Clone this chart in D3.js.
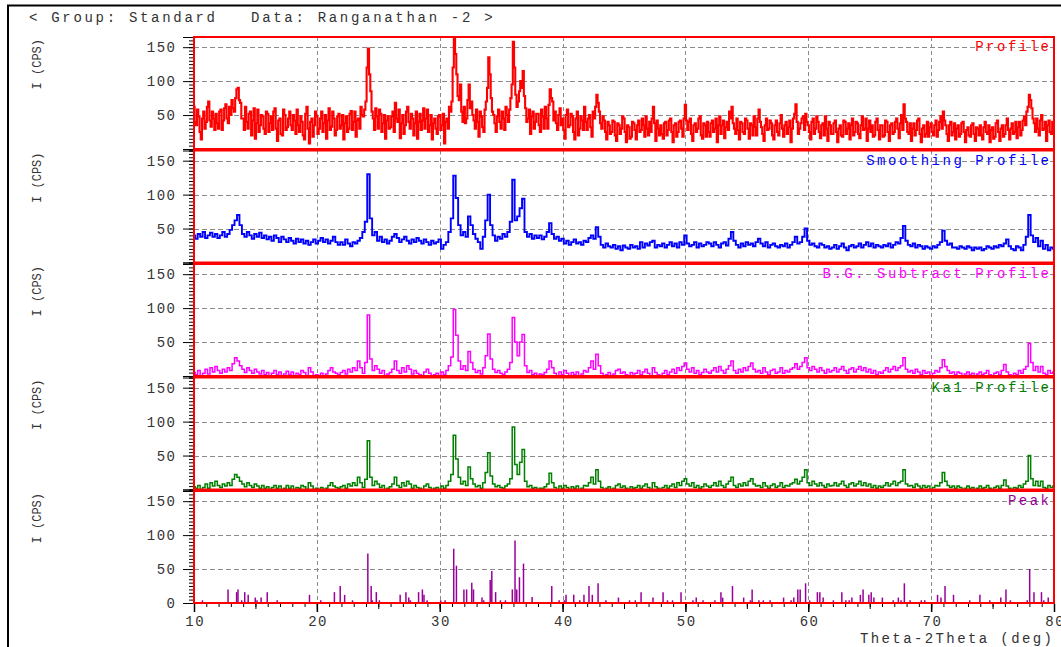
<!DOCTYPE html>
<html>
<head>
<meta charset="utf-8">
<script src="https://cdn.jsdelivr.net/npm/d3@7"></script>
<style>
  html, body { margin: 0; padding: 0; background: #fff; }
  svg { display: block; }
  text { font-family: 'Liberation Mono', 'DejaVu Sans Mono', monospace; }
</style>
</head>
<body>
<div id="chart"></div>
<script>
'use strict'

const title = '< Group: Standard   Data: Ranganathan -2 >'
const xLabel = 'Theta-2Theta (deg)'
const yLabel = 'I (CPS)'
const xStart = 10
const profileStep = 0.1
const xStep = 0.2
const xTicks = [10, 20, 30, 40, 50, 60, 70, 80]
const yTicks = [0, 50, 100, 150]
const panelNames = ['Profile', 'Smoothing Profile', 'B.G. Subtract Profile', 'Ka1 Profile', 'Peak']
const panelColors = ['#ff0000', '#0000ff', '#ff00ff', '#008000', '#990099']

// raw intensities every 0.1 deg from 10 to 80, one row = 2 deg
const profile = [
  62, 40, 35, 58, 48, 25, 14, 45, 55, 30, 40, 62, 70, 42, 33, 55, 45, 28, 52, 38,
  30, 55, 58, 28, 42, 60, 66, 45, 38, 62, 50, 72, 60, 55, 75, 88, 90, 72, 68, 45,
  45, 28, 62, 40, 30, 52, 55, 20, 42, 60, 15, 38, 58, 25, 35, 50, 48, 30, 22, 55,
  52, 25, 38, 48, 28, 55, 60, 30, 12, 42, 45, 22, 20, 58, 50, 28, 32, 45, 55, 35,
  28, 50, 42, 22, 58, 35, 25, 48, 40, 20, 14, 52, 62, 30, 8, 40, 45, 18, 35, 55,
  48, 22, 30, 45, 55, 25, 38, 50, 15, 42, 60, 28, 33, 55, 45, 20, 28, 48, 52, 30,
  35, 50, 14, 38, 48, 25, 30, 52, 56, 28, 40, 55, 18, 42, 45, 30, 62, 50, 48, 58,
  70, 120, 148, 110, 85, 55, 45, 28, 60, 48, 30, 58, 52, 25, 38, 50, 15, 42, 48, 30,
  32, 48, 55, 25, 68, 45, 40, 58, 16, 38, 50, 22, 35, 55, 62, 40, 30, 52, 45, 20,
  38, 55, 15, 40, 52, 28, 42, 60, 30, 45, 58, 25, 35, 50, 14, 38, 45, 30, 22, 48,
  50, 28, 35, 52, 8, 40, 45, 30, 62, 55, 70, 120, 165, 140, 110, 78, 72, 95, 55, 40,
  62, 38, 45, 72, 95, 60, 70, 50, 42, 30, 58, 40, 18, 55, 48, 32, 25, 58, 70, 90,
  135, 110, 75, 55, 50, 38, 25, 48, 58, 40, 30, 55, 45, 28, 62, 50, 40, 58, 75, 95,
  158, 120, 80, 62, 70, 85, 100, 90, 115, 78, 60, 40, 45, 58, 22, 48, 55, 30, 40, 52,
  52, 35, 25, 58, 48, 30, 62, 45, 30, 65, 88, 75, 70, 42, 55, 38, 28, 50, 60, 35,
  45, 28, 15, 50, 58, 32, 35, 52, 48, 25, 14, 45, 55, 20, 30, 48, 42, 28, 62, 40,
  28, 45, 50, 32, 18, 55, 45, 62, 80, 68, 55, 38, 30, 48, 42, 25, 14, 40, 35, 22,
  25, 42, 40, 20, 12, 38, 35, 22, 30, 48, 45, 25, 10, 35, 32, 15, 18, 40, 38, 28,
  14, 35, 42, 25, 28, 45, 35, 18, 48, 30, 20, 40, 25, 45, 62, 38, 12, 42, 30, 20,
  35, 22, 15, 38, 40, 20, 28, 42, 45, 25, 10, 35, 38, 18, 25, 40, 42, 30, 18, 45,
  65, 42, 28, 40, 45, 22, 12, 35, 38, 25, 30, 45, 48, 20, 15, 38, 35, 18, 40, 25,
  18, 38, 42, 25, 30, 45, 10, 35, 48, 22, 35, 42, 16, 32, 40, 28, 55, 45, 62, 38,
  30, 22, 45, 28, 14, 40, 38, 25, 22, 45, 42, 30, 15, 38, 35, 20, 48, 32, 20, 45,
  58, 40, 32, 22, 12, 35, 45, 28, 30, 42, 38, 20, 14, 35, 42, 25, 20, 38, 50, 30,
  18, 35, 40, 22, 32, 42, 10, 30, 45, 52, 66, 40, 22, 30, 38, 45, 48, 28, 52, 40,
  35, 25, 14, 40, 45, 22, 30, 48, 40, 25, 16, 35, 38, 20, 48, 30, 12, 40, 35, 22,
  22, 38, 42, 25, 10, 30, 35, 20, 18, 42, 40, 22, 30, 38, 14, 35, 45, 20, 25, 40,
  38, 22, 16, 35, 48, 28, 30, 45, 12, 30, 42, 25, 35, 18, 20, 40, 45, 28, 14, 35,
  35, 18, 20, 42, 40, 25, 12, 35, 38, 22, 25, 40, 45, 30, 16, 38, 50, 28, 66, 45,
  40, 25, 22, 38, 12, 30, 38, 20, 28, 42, 45, 22, 10, 30, 35, 18, 22, 40, 18, 32,
  38, 25, 20, 35, 42, 18, 28, 40, 48, 30, 55, 42, 35, 22, 12, 35, 40, 20, 25, 38,
  14, 30, 35, 18, 22, 38, 40, 25, 10, 28, 32, 20, 18, 35, 38, 22, 12, 32, 30, 20,
  35, 20, 14, 32, 40, 25, 22, 35, 10, 28, 32, 15, 18, 38, 42, 25, 12, 30, 35, 18,
  22, 35, 45, 28, 14, 30, 38, 22, 25, 40, 16, 32, 40, 20, 28, 42, 48, 35, 55, 62,
  80, 72, 60, 45, 38, 25, 45, 30, 20, 42, 50, 28, 30, 40, 12, 35, 42, 25, 22, 40,
  35
]

// the other profiles every 0.2 deg, one row = 2 deg
const smoothing = [
  40, 35, 42, 38, 45, 36, 40, 44, 38, 42,
  36, 40, 45, 38, 42, 48, 55, 62, 70, 55,
  42, 38, 45, 40, 35, 42, 38, 44, 36, 40,
  34, 38, 32, 40, 36, 30, 38, 34, 30, 36,
  32, 28, 35, 30, 34, 28, 32, 26, 30, 34,
  28, 32, 36, 30, 34, 28, 32, 38, 30, 26,
  30, 26, 34, 28, 24, 30, 28, 32, 36, 45,
  60, 130, 65, 40, 45, 32, 38, 30, 34, 28,
  32, 38, 42, 36, 30, 34, 38, 32, 28, 34,
  30, 36, 32, 28, 34, 30, 26, 32, 28, 30,
  34, 20, 26, 30, 45, 65, 128, 95, 55, 40,
  45, 38, 68, 55, 42, 35, 30, 20, 38, 62,
  100, 55, 40, 32, 38, 35, 42, 38, 45, 60,
  122, 62, 68, 80, 94, 45, 38, 42, 35, 40,
  36, 40, 34, 38, 45, 58, 42, 35, 38, 32,
  35, 28, 32, 26, 30, 34, 28, 30, 26, 32,
  30, 36, 40, 35, 52, 38, 26, 22, 28, 24,
  22, 26, 20, 24, 18, 25, 22, 20, 26, 22,
  24, 20, 30, 22, 28, 25, 30, 32, 22, 26,
  24, 28, 22, 26, 30, 24, 28, 22, 30, 26,
  40, 28, 24, 26, 30, 22, 28, 24, 26, 30,
  28, 24, 30, 26, 22, 28, 30, 25, 35, 45,
  32, 26, 22, 28, 24, 30, 26, 28, 24, 30,
  35, 28, 24, 30, 22, 26, 28, 24, 22, 26,
  24, 28, 22, 26, 30, 38, 28, 30, 38, 50,
  32, 26, 28, 24, 22, 28, 26, 22, 24, 20,
  22, 26, 20, 24, 28, 22, 18, 24, 26, 22,
  24, 28, 22, 26, 30, 24, 28, 22, 26, 24,
  22, 26, 24, 28, 22, 26, 30, 28, 36, 54,
  32, 26, 24, 28, 22, 26, 24, 20, 24, 22,
  20, 24, 22, 26, 30, 47, 32, 26, 28, 22,
  22, 20, 24, 22, 20, 24, 22, 18, 22, 20,
  22, 18, 20, 24, 22, 20, 24, 22, 26, 24,
  28, 34, 24, 20, 18, 24, 22, 18, 26, 38,
  70, 40, 30, 36, 24, 32, 20, 26, 18, 22,
  20
]

const bgSubtract = [
  5, 2, 8, 0, 4, 10, 3, 12, 6, 14,
  8, 4, 10, 6, 12, 8, 18, 27, 22, 15,
  10, 5, 12, 8, 4, 10, 6, 3, 8, 2,
  5, 0, 4, 8, 2, 6, 0, 3, 7, 2,
  6, 0, 4, 2, 8, 5, 0, 12, 6, 0,
  2, 0, 4, 0, 3, 8, 12, 6, 4, 2,
  5, 8, 3, 10, 6, 12, 8, 22, 12, 4,
  20, 90, 25, 8, 15, 10, 4, 8, 0, 3,
  5, 10, 22, 8, 4, 12, 6, 15, 10, 3,
  8, 4, 2, 0, 6, 10, 4, 0, 2, 4,
  0, 6, 2, 8, 15, 28, 98, 60, 22, 10,
  15, 8, 36, 20, 10, 5, 8, 3, 12, 30,
  62, 25, 10, 5, 8, 4, 2, 6, 10, 20,
  86, 50, 30, 50, 61, 15, 5, 8, 2, 4,
  0, 3, 2, 5, 10, 22, 12, 4, 0, 6,
  2, 8, 4, 0, 5, 2, 6, 0, 3, 8,
  6, 12, 22, 10, 32, 15, 4, 0, 2, 5,
  0, 3, 8, 10, 4, 6, 2, 0, 5, 3,
  4, 8, 2, 6, 10, 4, 0, 12, 5, 2,
  0, 4, 8, 2, 6, 10, 4, 12, 8, 14,
  19, 10, 6, 12, 4, 8, 2, 5, 10, 6,
  4, 8, 12, 6, 14, 8, 4, 10, 15, 22,
  8, 4, 10, 6, 12, 8, 14, 19, 10, 6,
  8, 4, 12, 6, 2, 8, 10, 4, 6, 12,
  4, 8, 6, 10, 12, 18, 10, 14, 20, 27,
  12, 8, 14, 10, 6, 12, 8, 4, 10, 6,
  8, 12, 6, 10, 14, 8, 4, 10, 12, 6,
  10, 14, 8, 12, 6, 10, 4, 8, 2, 6,
  4, 8, 12, 6, 10, 14, 8, 12, 15, 27,
  10, 6, 8, 4, 10, 6, 2, 8, 4, 6,
  0, 4, 8, 6, 12, 24, 14, 8, 4, 6,
  2, 6, 4, 0, 3, 6, 2, 4, 0, 3,
  6, 2, 4, 8, 2, 0, 4, 6, 2, 8,
  17, 6, 2, 0, 4, 2, 8, 4, 10, 14,
  48, 20, 8, 14, 6, 14, 4, 2, 8, 4,
  6
]

const ka1 = [
  4, 2, 6, 0, 3, 8, 2, 10, 5, 12,
  6, 3, 8, 5, 10, 6, 15, 22, 18, 12,
  8, 4, 10, 6, 3, 8, 5, 2, 6, 2,
  4, 0, 3, 6, 2, 5, 0, 2, 6, 2,
  5, 0, 3, 2, 6, 4, 0, 10, 5, 0,
  2, 0, 3, 0, 2, 6, 10, 5, 3, 2,
  4, 6, 2, 8, 5, 10, 6, 18, 10, 3,
  15, 72, 18, 6, 12, 8, 3, 6, 0, 2,
  4, 8, 18, 6, 3, 10, 5, 12, 8, 2,
  6, 3, 2, 0, 5, 8, 3, 0, 2, 3,
  0, 5, 2, 6, 12, 22, 80, 45, 18, 8,
  12, 6, 33, 16, 8, 4, 6, 2, 10, 25,
  54, 20, 8, 4, 6, 3, 2, 5, 8, 16,
  92, 37, 22, 40, 59, 12, 4, 6, 2, 3,
  0, 2, 2, 4, 8, 24, 10, 3, 0, 5,
  2, 6, 3, 0, 4, 2, 5, 0, 2, 6,
  5, 10, 18, 8, 29, 12, 3, 0, 2, 4,
  0, 2, 6, 8, 3, 5, 2, 0, 4, 2,
  3, 6, 2, 5, 8, 3, 0, 10, 4, 2,
  0, 3, 6, 2, 5, 8, 3, 10, 6, 12,
  16, 8, 5, 10, 3, 6, 2, 4, 8, 5,
  3, 6, 10, 5, 12, 6, 3, 8, 12, 18,
  6, 3, 8, 5, 10, 6, 12, 16, 8, 5,
  6, 3, 10, 5, 2, 6, 8, 3, 5, 10,
  3, 6, 5, 8, 10, 15, 8, 12, 18, 29,
  10, 6, 12, 8, 5, 10, 6, 3, 8, 5,
  6, 10, 5, 8, 12, 6, 3, 8, 10, 5,
  8, 12, 6, 10, 5, 8, 3, 6, 2, 5,
  3, 6, 10, 5, 8, 12, 6, 10, 12, 29,
  8, 5, 6, 3, 8, 5, 2, 6, 3, 5,
  0, 3, 6, 5, 10, 25, 12, 6, 3, 5,
  2, 5, 3, 0, 2, 5, 2, 3, 0, 2,
  5, 2, 3, 6, 2, 0, 3, 5, 2, 6,
  14, 5, 2, 0, 3, 2, 6, 3, 8, 12,
  50, 16, 6, 12, 5, 12, 3, 2, 6, 3,
  5
]

const peakAngles = [
  10.69, 12.77, 13.47, 13.58, 13.88, 14.13, 14.41, 14.99, 15.13, 15.46,
  15.96, 16.77, 19.40, 20.32, 21.43, 21.90, 22.26, 22.90, 24.15, 24.42,
  24.51, 24.84, 25.09, 26.78, 27.25, 27.48, 27.61, 28.28, 28.59, 28.72,
  28.97, 30.08, 30.44, 31.14, 31.36, 31.97, 32.19, 32.61, 32.75, 33.44,
  33.58, 34.11, 34.24, 34.55, 34.94, 35.35, 35.91, 36.13, 36.27, 36.49,
  36.82, 37.52, 39.12, 39.72, 40.14, 40.28, 40.91, 41.40, 41.74, 42.15,
  42.42, 42.89, 43.53, 44.55, 45.45, 45.92, 46.39, 47.36, 48.18, 48.54,
  48.95, 49.64, 50.61, 50.88, 51.43, 52.40, 52.89, 53.03, 53.83, 54.74,
  55.29, 55.43, 55.98, 56.34, 56.89, 57.99, 58.60, 58.82, 59.15, 59.34,
  59.78, 60.11, 60.74, 60.94, 61.21, 62.04, 62.73, 63.06, 63.33, 63.55,
  64.24, 64.46, 64.93, 65.12, 65.34, 66.03, 66.91, 67.33, 67.55, 67.82,
  68.29, 69.20, 69.48, 70.52, 70.80, 71.13, 71.82, 73.14, 73.97, 74.77,
  75.67, 76.09, 76.45, 77.82, 78.02, 78.37, 78.98, 79.17, 79.53
]

const peakCounts = [
  4, 20, 16, 20, 4, 16, 12, 8, 4, 8,
  16, 4, 12, 4, 16, 25, 12, 4, 73, 25,
  4, 16, 4, 12, 16, 8, 4, 16, 20, 12,
  4, 4, 4, 80, 55, 20, 20, 30, 20, 8,
  4, 34, 47, 16, 4, 4, 20, 92, 20, 38,
  58, 9, 25, 4, 4, 12, 12, 4, 12, 25,
  12, 29, 4, 8, 4, 4, 16, 8, 16, 4,
  4, 16, 4, 8, 4, 4, 16, 8, 25, 8,
  4, 20, 4, 4, 4, 8, 4, 8, 20, 20,
  29, 4, 16, 16, 8, 4, 16, 4, 4, 8,
  12, 20, 12, 16, 8, 8, 4, 8, 4, 29,
  4, 4, 4, 12, 8, 25, 12, 4, 12, 4,
  8, 20, 4, 4, 50, 16, 16, 4, 8
]

const series = [profile, smoothing, bgSubtract, ka1]
const seriesSteps = [profileStep, xStep, xStep, xStep]
const seriesWidths = [2.1, 1.9, 1.5, 1.5]

const width = 1061
const height = 647
const plotLeft = 194
const plotRight = 1054
const panelTop = 37
const panelStep = 113.5
const panelHeight = 112
const yMax = 165
const gridColor = '#8a8a8a'
const textColor = '#333'

const x = d3.scaleLinear().domain([10, 80]).range([plotLeft, plotRight])

const svg = d3
  .select('#chart')
  .append('svg')
  .attr('width', width)
  .attr('height', height)

// outer frame of the window
svg
  .append('path')
  .attr('d', `M8,${height} V5.5 H${width}`)
  .attr('fill', 'none')
  .attr('stroke', '#000')
  .attr('stroke-width', 2)

svg
  .append('text')
  .attr('x', 29)
  .attr('y', 22)
  .attr('font-size', 14)
  .attr('letter-spacing', 2.7)
  .style('white-space', 'pre')
  .attr('fill', textColor)
  .text(title)

const defs = svg.append('defs')

panelNames.forEach((name, k) => {
  const top = panelTop + k * panelStep
  const bottom = top + panelHeight
  const y = d3.scaleLinear().domain([0, yMax]).range([bottom, top])
  const g = svg.append('g').attr('class', `panel panel-${k}`)

  // grid
  g.selectAll('.hgrid')
    .data([50, 100, 150])
    .enter()
    .append('line')
    .attr('x1', plotLeft)
    .attr('x2', plotRight)
    .attr('y1', (d) => Math.round(y(d)) + 0.5)
    .attr('y2', (d) => Math.round(y(d)) + 0.5)
    .attr('stroke', gridColor)
    .attr('stroke-dasharray', '5,3')

  g.selectAll('.vgrid')
    .data(xTicks.slice(1, -1))
    .enter()
    .append('line')
    .attr('x1', (d) => Math.round(x(d)) + 0.5)
    .attr('x2', (d) => Math.round(x(d)) + 0.5)
    .attr('y1', top)
    .attr('y2', bottom)
    .attr('stroke', gridColor)
    .attr('stroke-dasharray', '4,3')

  defs
    .append('clipPath')
    .attr('id', `clip-${k}`)
    .append('rect')
    .attr('x', plotLeft)
    .attr('y', top)
    .attr('width', plotRight - plotLeft)
    .attr('height', panelHeight)

  const dataG = g.append('g').attr('clip-path', `url(#clip-${k})`)

  if (k < 4) {
    const step = seriesSteps[k]
    const line = d3
      .line()
      .x((d, i) => x(xStart + i * step))
      .y((d) => y(d))
      .curve(d3.curveStep)

    dataG
      .append('path')
      .datum(series[k])
      .attr('d', line)
      .attr('fill', 'none')
      .attr('stroke', panelColors[k])
      .attr('stroke-width', seriesWidths[k])
  } else {
    dataG
      .selectAll('.peak')
      .data(peakAngles)
      .enter()
      .append('line')
      .attr('x1', (d) => x(d))
      .attr('x2', (d) => x(d))
      .attr('y1', y(0))
      .attr('y2', (d, i) => y(peakCounts[i]))
      .attr('stroke', panelColors[4])
      .attr('stroke-width', 1.5)
  }

  // left axis: minor comb, then labelled majors
  const minorAxis = d3
    .axisLeft(y)
    .tickValues(d3.range(0, yMax + 1, 5))
    .tickSize(5)
    .tickFormat('')

  const majorAxis = d3
    .axisLeft(y)
    .tickValues(yTicks)
    .tickSize(11)
    .tickPadding(6.5)
    .tickFormat((d) => (d === 0 && k < 4 ? '' : d))

  const minorG = g.append('g').attr('transform', `translate(${plotLeft},0)`).call(minorAxis)
  const majorG = g.append('g').attr('transform', `translate(${plotLeft},0)`).call(majorAxis)

  ;[minorG, majorG].forEach((axisG) => {
    axisG.select('.domain').attr('stroke', '#000')
    axisG.selectAll('.tick line').attr('stroke', '#000')
  })
  majorG
    .selectAll('text')
    .attr('font-size', 14)
    .attr('letter-spacing', 1.5)
    .attr('fill', textColor)
  majorG.attr('font-family', null).attr('font-size', null)

  g.append('text')
    .attr('transform', `translate(41, ${top + 2}) rotate(-90)`)
    .attr('text-anchor', 'end')
    .attr('font-size', 12)
    .attr('fill', textColor)
    .style('white-space', 'pre')
    .text(yLabel)

  // panel border
  g.append('rect')
    .attr('x', plotLeft)
    .attr('y', top)
    .attr('width', plotRight - plotLeft)
    .attr('height', panelHeight)
    .attr('fill', 'none')
    .attr('stroke', '#ff0000')
    .attr('stroke-width', 2)

  g.append('text')
    .attr('x', plotRight - 5 + 2.5)
    .attr('y', top + 14)
    .attr('text-anchor', 'end')
    .attr('font-size', 14)
    .attr('letter-spacing', 2.5)
    .style('white-space', 'pre')
    .attr('fill', panelColors[k])
    .text(name)
})

// bottom axis under the last panel
const axisY = panelTop + 4 * panelStep + panelHeight + 1
const bottomAxes = [
  d3.axisBottom(x).tickValues(d3.range(10, 81, 1)).tickSize(3).tickFormat(''),
  d3.axisBottom(x).tickValues(d3.range(10, 81, 5)).tickSize(5).tickFormat(''),
  d3.axisBottom(x).tickValues(xTicks).tickSize(8).tickPadding(4)
]
bottomAxes.forEach((axis, i) => {
  const axisG = svg
    .append('g')
    .attr('transform', `translate(0,${axisY})`)
    .call(axis)
  axisG.select('.domain').remove()
  axisG.selectAll('.tick line').attr('stroke', '#000').attr('stroke-width', i === 2 ? 1.5 : 1)
  axisG.attr('font-family', null).attr('font-size', null)
  axisG
    .selectAll('text')
    .attr('font-size', 14)
    .attr('letter-spacing', 1.5)
    .attr('dx', 0.75)
    .attr('fill', textColor)
})

svg
  .append('text')
  .attr('x', plotRight - 2 + 2.4)
  .attr('y', 643)
  .attr('text-anchor', 'end')
  .attr('font-size', 14)
  .attr('letter-spacing', 2.4)
  .attr('fill', textColor)
  .style('white-space', 'pre')
  .text(xLabel)
</script>
</body>
</html>
